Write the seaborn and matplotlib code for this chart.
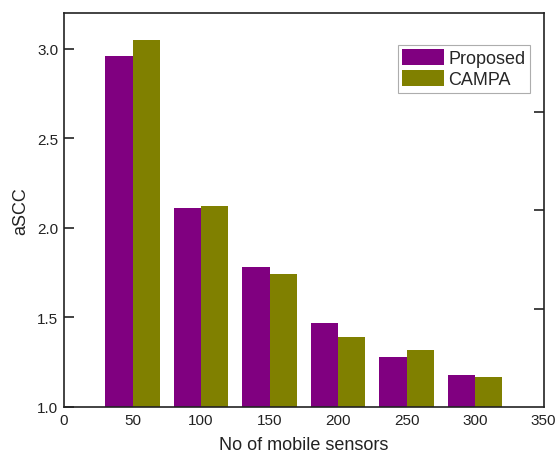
import matplotlib
matplotlib.use("Agg")
import matplotlib.pyplot as plt
import seaborn as sns
import pandas as pd

sensors = [50, 100, 150, 200, 250, 300]
proposed = [2.96, 2.11, 1.78, 1.47, 1.28, 1.18]
campa = [3.05, 2.12, 1.74, 1.39, 1.32, 1.17]
series_names = ["Proposed", "CAMPA"]
colors = ["#800080", "#808000"]

df = pd.DataFrame({
    "n": sensors * 2,
    "val": proposed + campa,
    "method": [series_names[0]] * len(sensors) + [series_names[1]] * len(sensors),
})

sns.set_style("white")
plt.rcParams["font.family"] = ["Liberation Sans", "DejaVu Sans"]

fig = plt.figure(figsize=(5.58, 4.56), dpi=100)
ax = fig.add_axes([0.1147, 0.1053, 0.8595, 0.864])

sns.barplot(data=df, x="n", y="val", hue="method", native_scale=True,
            width=0.8, palette=colors, ax=ax, edgecolor="none", errorbar=None,
            saturation=1)

ax.set_xlim(0, 350)
ax.set_ylim(1.0, 3.2)
ax.set_xticks([0, 50, 100, 150, 200, 250, 300, 350])
ax.set_yticks([1.0, 1.5, 2.0, 2.5, 3.0])
ax.set_yticklabels(["1.0", "1.5", "2.0", "2.5", "3.0"])
ax.tick_params(axis="both", direction="in", length=7, width=1.2, colors="#222222",
               labelsize=11, labelcolor="#222222")
ax.tick_params(axis="x", length=7, pad=4)
ax.tick_params(axis="y", pad=4)
for s in ax.spines.values():
    s.set_color("#222222")
    s.set_linewidth(1.2)

ax.set_xlabel("No of mobile sensors", fontsize=13, labelpad=7, color="#222222")
ax.set_ylabel("aSCC", fontsize=13, labelpad=6, color="#222222")

twin = ax.twinx()
twin.set_ylim(ax.get_ylim())
twin.set_yticks([1.547, 2.10, 2.648])
twin.set_yticklabels([])
twin.tick_params(axis="y", direction="in", length=7, width=1.2, colors="#222222")
for s in twin.spines.values():
    s.set_visible(False)

leg = ax.legend(loc="upper right", bbox_to_anchor=(0.971, 0.919), fontsize=13,
                frameon=True, fancybox=False, edgecolor="#999999",
                handlelength=2.3, handleheight=0.95, handletextpad=0.25,
                labelspacing=0.15, borderpad=0.25, borderaxespad=0)
leg.get_frame().set_linewidth(0.8)

fig.savefig("out.png", dpi=100)
